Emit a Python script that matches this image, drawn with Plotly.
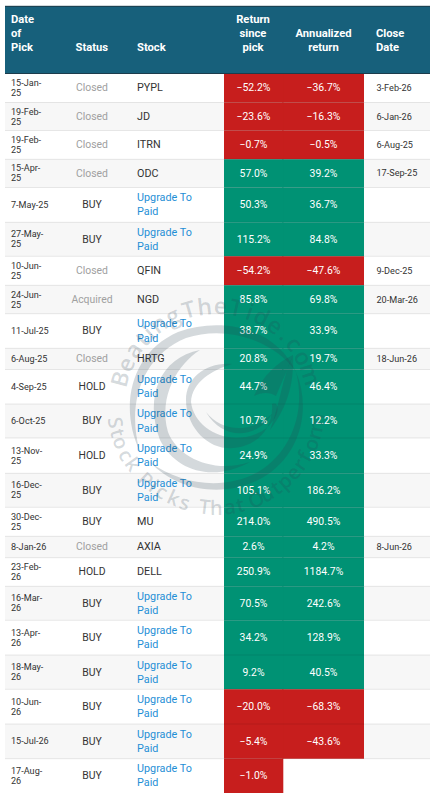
import math
import plotly.graph_objects as go

# table content
pick_dates = ["15-Jan-\n25", "19-Feb-\n25", "19-Feb-\n25", "15-Apr-\n25", "7-May-25", "27-May-\n25",
              "10-Jun-\n25", "24-Jun-\n25", "11-Jul-25", "6-Aug-25", "4-Sep-25", "6-Oct-25",
              "13-Nov-\n25", "16-Dec-\n25", "30-Dec-\n25", "8-Jan-26", "23-Feb-\n26", "16-Mar-\n26",
              "13-Apr-\n26", "18-May-\n26", "10-Jun-\n26", "15-Jul-26", "17-Aug-\n26"]
statuses = ["Closed", "Closed", "Closed", "Closed", "BUY", "BUY", "Closed", "Acquired", "BUY", "Closed",
            "HOLD", "BUY", "HOLD", "BUY", "BUY", "Closed", "HOLD", "BUY", "BUY", "BUY", "BUY", "BUY", "BUY"]
stocks = ["PYPL", "JD", "ITRN", "ODC", "Upgrade To Paid", "Upgrade To Paid", "QFIN", "NGD", "Upgrade To Paid",
          "HRTG", "Upgrade To Paid", "Upgrade To Paid", "Upgrade To Paid", "Upgrade To Paid", "MU", "AXIA",
          "DELL", "Upgrade To Paid", "Upgrade To Paid", "Upgrade To Paid", "Upgrade To Paid",
          "Upgrade To Paid", "Upgrade To Paid"]
returns = [-52.2, -23.6, -0.7, 57.0, 50.3, 115.2, -54.2, 85.8, 38.7, 20.8, 44.7, 10.7, 24.9, 105.1,
           214.0, 2.6, 250.9, 70.5, 34.2, 9.2, -20.0, -5.4, -1.0]
annualized = [-36.7, -16.3, -0.5, 39.2, 36.7, 84.8, -47.6, 69.8, 33.9, 19.7, 46.4, 12.2, 33.3, 186.2,
              490.5, 4.2, 1184.7, 242.6, 128.9, 40.5, -68.3, -43.6, None]
close_dates = ["3-Feb-26", "6-Jan-26", "6-Aug-25", "17-Sep-25", "", "", "9-Dec-25", "20-Mar-26", "", "18-Jun-26",
               "", "", "", "", "", "8-Jun-26", "", "", "", "", "", "", ""]

# layout of the table, in page pixels
row_edges = [73.5, 102.5, 130.5, 159.3, 187.5, 222.3, 256.3, 285.3, 313.7, 348.3, 369.5, 404, 438, 473.3,
             507.3, 536.3, 557.7, 586.3, 620.3, 655, 689.3, 724, 758.7, 793]
row_mid = [(a + b) / 2 for a, b in zip(row_edges, row_edges[1:])]
row_height = [b - a for a, b in zip(row_edges, row_edges[1:])]
text_mid = [m + 0.8 for m in row_mid]
n_rows = len(row_mid)

HEADER = "#17607b"
RED = "#c71e1d"
GREEN = "#009274"
INK = "#333333"
GREY = "#a0a0a0"
BLUE = "#1f8fd6"
FONT = "Roboto"
MARK = "rgba(40,65,80,0.2)"


def pct(v):
    return f"{v:.1f}%".replace("-", "\u2212")


def cell_bar(x0, x1, ys, heights, colors):
    return go.Bar(orientation="h", y=ys, x=[x1 - x0] * len(ys), base=x0, width=heights,
                  marker=dict(color=colors, line_width=0), hoverinfo="skip", showlegend=False)


def text_layer(xs, ys, texts, colors, size, position, bold=False):
    return go.Scatter(x=xs, y=ys, text=texts, mode="text", textposition=position,
                      textfont=dict(family=FONT, size=size, color=colors, weight=700 if bold else 400),
                      hoverinfo="skip", showlegend=False, cliponaxis=False)


fig = go.Figure()

# row stripes, header band and the coloured return cells
stripes = ["#ffffff" if i % 2 == 0 else "#f7f7f7" for i in range(n_rows)]
fig.add_trace(cell_bar(5, 430, row_mid, row_height, stripes))
fig.add_trace(cell_bar(5, 430, [39.75], [67.5], [HEADER]))
ann_idx = [i for i in range(n_rows) if annualized[i] is not None]
fig.add_trace(cell_bar(282.5, 364, [row_mid[i] for i in ann_idx], [row_height[i] for i in ann_idx],
                       [RED if annualized[i] < 0 else GREEN for i in ann_idx]))
fig.add_trace(cell_bar(224, 283.3, row_mid, row_height, [RED if v < 0 else GREEN for v in returns]))

# date column: wrapped dates sit tighter than plotly's line height
dx, dy, dt = [], [], []
for mid, d in zip(text_mid, pick_dates):
    parts = d.split("\n")
    for k, part in enumerate(parts):
        dx.append(11)
        dy.append(mid + (k - (len(parts) - 1) / 2) * 10)
        dt.append(part)
fig.add_trace(text_layer(dx, dy, dt, INK, 9.1, "middle right"))

status_colors = [GREY if s in ("Closed", "Acquired") else INK for s in statuses]
fig.add_trace(text_layer([92] * n_rows, text_mid, statuses, status_colors, 10.4, "middle center"))

stock_text = [s.replace("To Paid", "To<br>Paid") for s in stocks]
stock_colors = [BLUE if s.startswith("Upgrade") else INK for s in stocks]
fig.add_trace(text_layer([137] * n_rows, text_mid, stock_text, stock_colors, 10.8, "middle right"))

fig.add_trace(text_layer([253.5] * n_rows, text_mid, [pct(v) for v in returns], "#ffffff", 10.4, "middle center"))
fig.add_trace(text_layer([323.5] * len(ann_idx), [text_mid[i] for i in ann_idx],
                         [pct(annualized[i]) for i in ann_idx], "#ffffff", 10.4, "middle center"))
fig.add_trace(text_layer([376.5] * n_rows, text_mid, close_dates, INK, 9.1, "middle right"))

# header labels
fig.add_trace(text_layer([11, 11, 11, 75.5, 137, 376, 376], [20.5, 34.5, 48.5, 48.5, 48.5, 34.5, 48.5],
                         ["Date", "of", "Pick", "Status", "Stock", "Close", "Date"],
                         "#ffffff", 11.2, "middle right", bold=True))
fig.add_trace(text_layer([253, 253, 253, 323.5, 323.5], [20.5, 34.5, 48.5, 34.5, 48.5],
                         ["Return", "since", "pick", "Annualized", "return"],
                         "#ffffff", 11.2, "middle center", bold=True))

# row rules
shapes = []
for y in row_edges[1:-1]:
    shapes.append(dict(type="line", x0=5, x1=430, y0=y, y1=y, layer="above",
                       line=dict(color="rgba(0,0,0,0.09)", width=1)))
shapes.append(dict(type="line", x0=5, x1=430, y0=6.3, y1=6.3, layer="above", line=dict(color="#1c3c4c", width=1)))
shapes.append(dict(type="line", x0=5, x1=430, y0=73.5, y1=73.5, layer="above", line=dict(color="#1c3c4c", width=1)))

# watermark swirl, closed tapered strokes
swirl = [
    "M 140 452 C 118 405 132 352 178 332 C 222 316 276 328 296 372 C 276 342 228 324 186 338 "
    "C 142 356 126 404 140 452 Z",
    "M 296 372 C 312 410 300 456 262 478 C 226 498 178 492 150 462 C 182 486 226 490 258 472 "
    "C 292 452 306 410 296 372 Z",
    "M 160 440 C 144 396 160 358 200 350 C 178 364 158 396 168 432 C 178 458 214 474 250 462 "
    "C 214 482 176 472 160 440 Z",
    "M 186 400 C 186 378 206 362 232 364 C 212 370 192 382 191 402 C 194 428 226 446 256 434 "
    "C 280 424 282 400 272 404 C 274 432 252 450 226 448 C 204 446 186 424 186 400 Z",
    "M 293 355 C 278 362 262 376 254 396 C 262 392 270 392 276 396 C 282 382 288 368 293 355 Z",
    "M 293 355 C 294 378 290 404 270 430 C 280 404 282 378 293 355 Z",
    "M 206 412 C 222 432 250 434 272 414 C 256 440 222 440 206 412 Z",
]
for path in swirl:
    shapes.append(dict(type="path", path=path, fillcolor=MARK, line=dict(width=0), layer="above"))

# watermark lettering, one rotated annotation per glyph
NARROW = set("ilt.rI")
CX, CY = 216, 405


def arc_letters(word, start, end, radius, bottom, size):
    weights = [0.62 if c in NARROW else (0.5 if c == " " else (1.25 if c in "mw" else 1.0)) for c in word]
    total = sum((a + b) / 2 for a, b in zip(weights, weights[1:]))
    pos = 0.0
    out = []
    for i, c in enumerate(word):
        ang = start + (end - start) * pos / total
        rad = math.radians(ang)
        if bottom:
            x, y, rot = CX + radius * math.sin(rad), CY + radius * math.cos(rad), -ang
        else:
            x, y, rot = CX + radius * math.sin(rad), CY - radius * math.cos(rad), ang
        if c != " ":
            out.append(dict(x=x, y=y, text=c, showarrow=False, textangle=rot, xanchor="center", yanchor="middle",
                            font=dict(family="Open Sans", size=size, color=MARK, weight=600)))
        if i < len(word) - 1:
            pos += (weights[i] + weights[i + 1]) / 2
    return out


annotations = arc_letters("BeatingTheTide.com", -75, 72, 100, False, 23)
annotations += arc_letters("Stock Picks That Outperform", -80, 80, 102, True, 20)

fig.update_layout(
    width=430, height=793, margin=dict(l=0, r=0, t=0, b=0), barmode="overlay",
    paper_bgcolor="#ffffff", plot_bgcolor="#ffffff", showlegend=False,
    xaxis=dict(range=[0, 430], visible=False, fixedrange=True),
    yaxis=dict(range=[793, 0], visible=False, fixedrange=True),
    shapes=shapes, annotations=annotations, font=dict(family=FONT),
)

fig.write_html("out.html", config={"displayModeBar": False},
               post_script="document.body.style.margin='0';")
